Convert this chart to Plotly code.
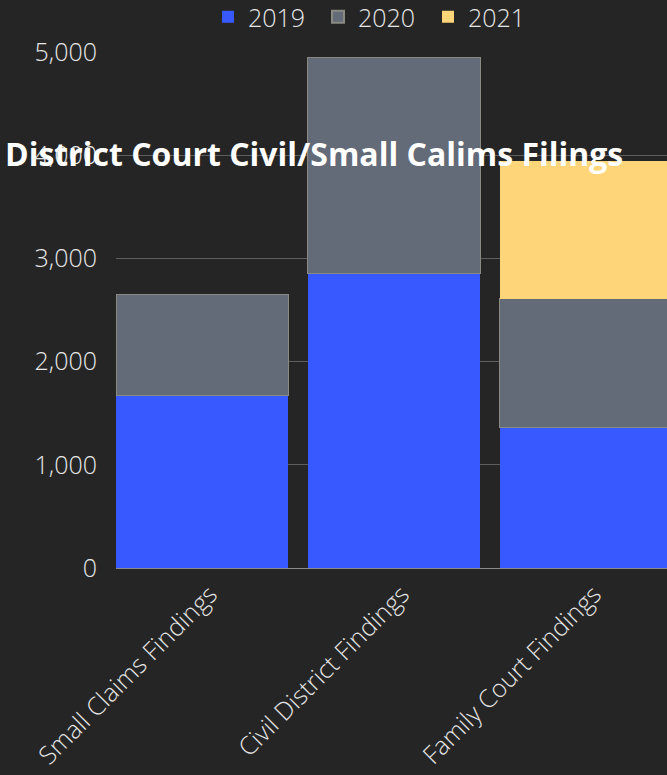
import plotly.graph_objects as go

categories = ["Small Claims Findings", "Civil District Findings", "Family Court Findings"]
years = ["2019", "2020", "2021"]
values_2019 = [1675, 2850, 1360]
values_2020 = [980, 2100, 1250]
values_2021 = [0, 0, 1330]
colors = ["#3859FF", "#636A78", "#FFD579"]
ytick_vals = [0, 1000, 2000, 3000, 4000, 5000]

series = [values_2019, values_2020, values_2021]
line_colors = ["rgba(0,0,0,0)", "#8a8a82", "rgba(0,0,0,0)"]

fig = go.Figure()
for name, vals, col, lc in zip(years, series, colors, line_colors):
    fig.add_trace(go.Bar(
        x=categories, y=vals, name=name,
        marker=dict(color=col, line=dict(color=lc, width=1)),
    ))

font_family = "Open Sans"
fig.update_layout(
    barmode="stack",
    bargap=0.104,
    width=667, height=775,
    paper_bgcolor="#252525",
    plot_bgcolor="#252525",
    margin=dict(l=116, r=0, t=52, b=207, autoexpand=False),
    font=dict(family=font_family, color="#e6e6e6"),
    title=dict(
        text="District Court Civil/Small Calims Filings",
        font=dict(family=font_family, size=32, color="#ffffff", weight=700),
        xref="container", yref="container",
        x=5/667, xanchor="left",
        y=1 - 155/775, yanchor="middle",
    ),
    legend=dict(
        orientation="h",
        traceorder="normal",
        xref="container", yref="container",
        x=373/667, xanchor="center",
        y=1 - 17/775, yanchor="middle",
        font=dict(family=font_family, size=25, color="#e6e6e6", weight=300),
        bgcolor="rgba(0,0,0,0)",
        itemsizing="constant",
        entrywidth=65,
        entrywidthmode="pixels",
    ),
    xaxis=dict(
        range=[-0.448, 2.422],
        tickangle=-45,
        tickfont=dict(family=font_family, size=25, color="#e6e6e6", weight=300),
        showgrid=False,
        showline=False,
        ticks="",
        ticklabelstandoff=6,
        ticklabelshift=8,
        automargin=False,
    ),
    yaxis=dict(
        range=[0, 5000],
        tickvals=ytick_vals,
        tickformat=",",
        tickfont=dict(family=font_family, size=25, color="#e6e6e6", weight=300),
        gridcolor="#5e5e5e",
        gridwidth=1,
        zeroline=True,
        zerolinecolor="#8a8a8a",
        zerolinewidth=1,
        ticks="",
        ticklabelstandoff=18,
        automargin=False,
    ),
)

fig.write_html("out.html", config={"displayModeBar": False})
with open("out.html", "r", encoding="utf-8") as f:
    html = f.read()
html = html.replace("<head>", "<head><style>html,body{margin:0;padding:0;background:#252525;overflow:hidden}</style>", 1)
with open("out.html", "w", encoding="utf-8") as f:
    f.write(html)
